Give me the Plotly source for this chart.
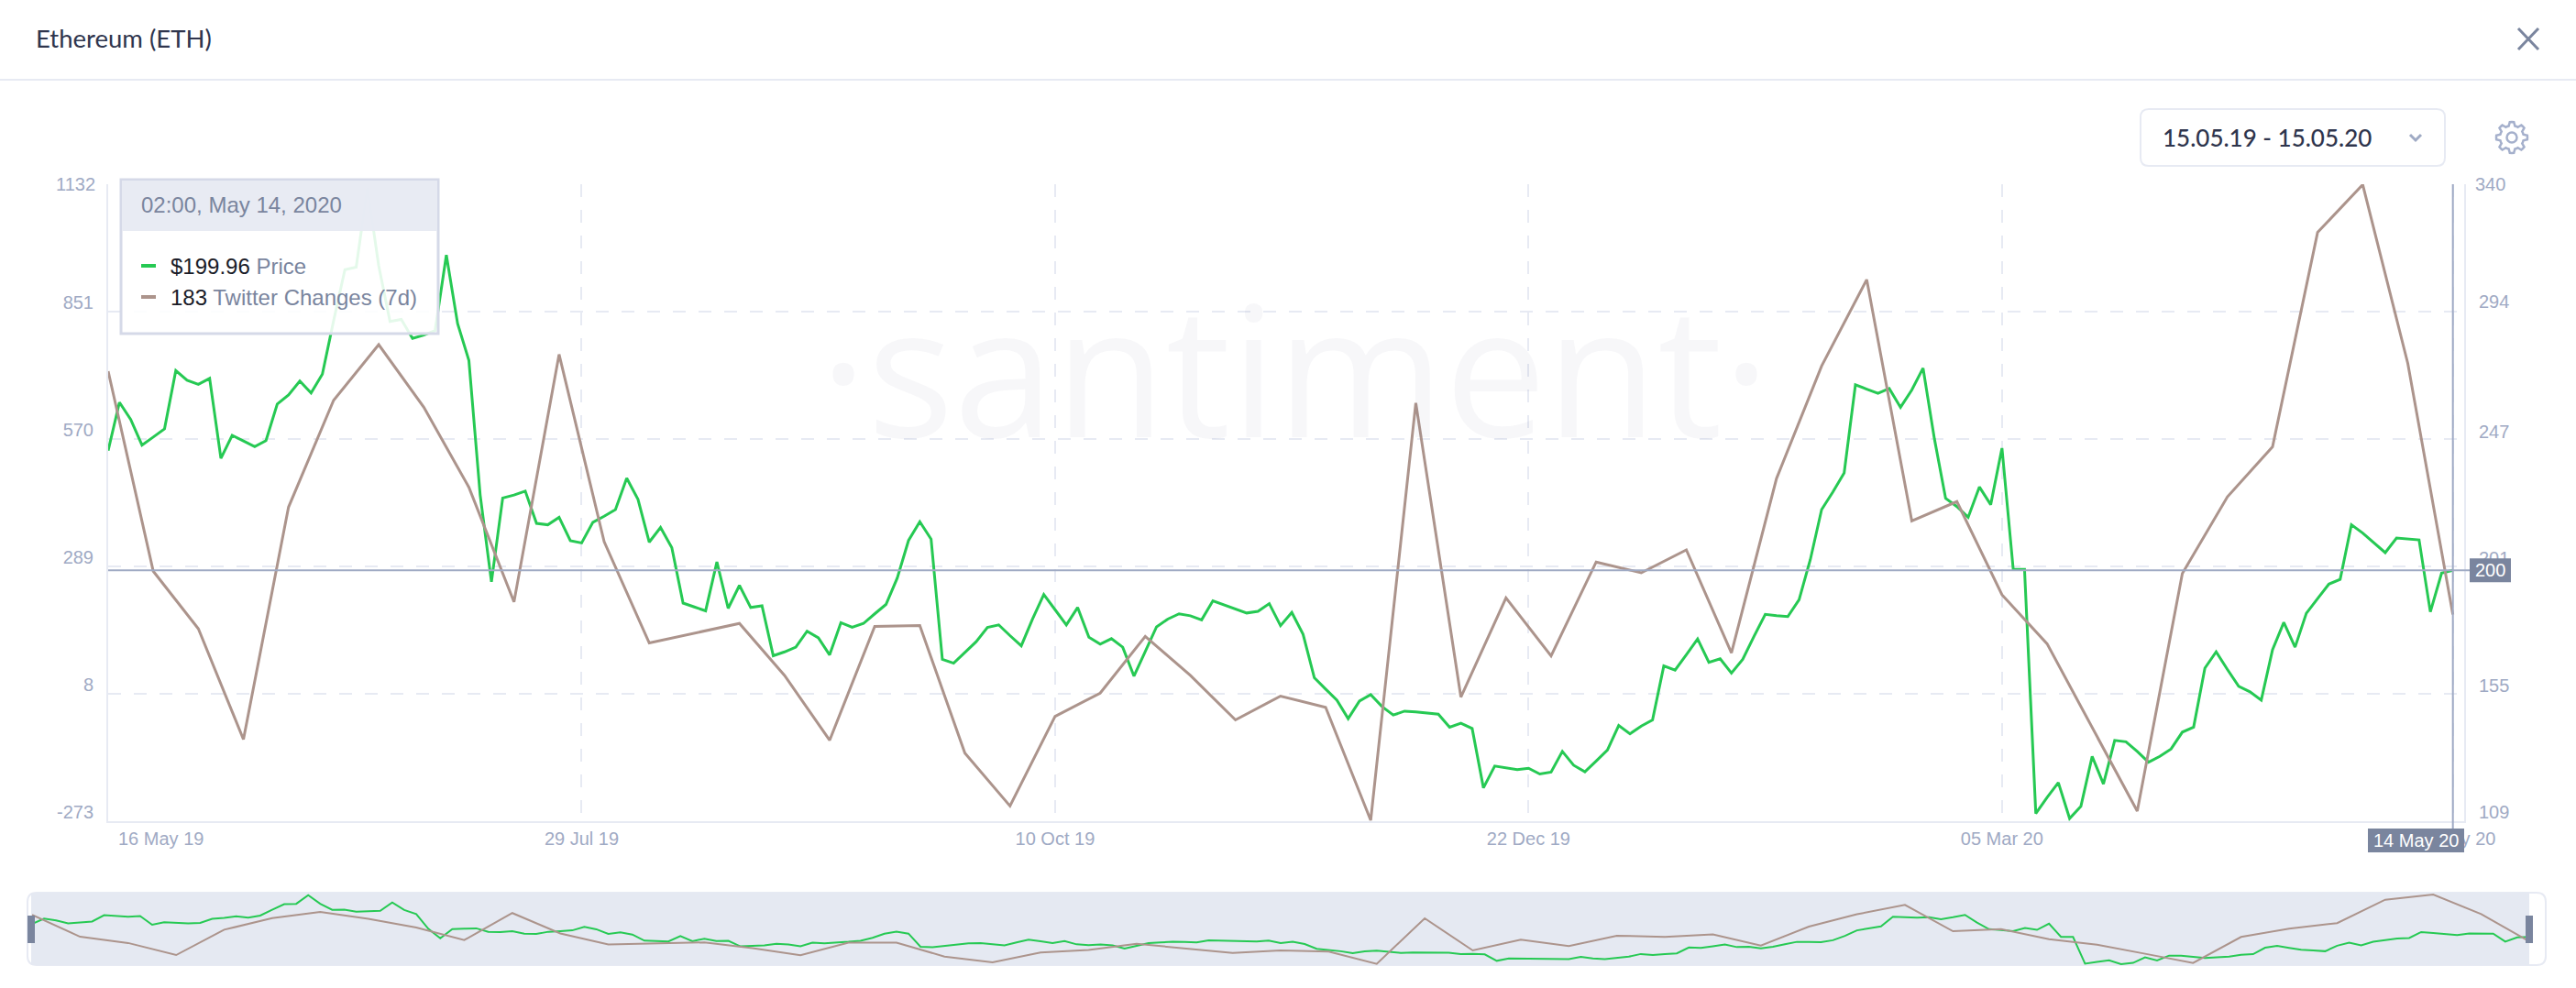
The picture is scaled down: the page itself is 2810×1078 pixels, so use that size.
import math
import pandas as pd
import plotly.graph_objects as go

W, H = 2810, 1078

price = [243.4,260.9,254.7,245.4,248.3,251.3,272.4,268.9,267.4,269.6,240.6,248.9,246.9,244.8,247,260.3,263.6,268.6,264.3,271.1,
290.5,309,309.9,338.7,310.4,290.2,291,284.1,285.3,286.9,314.3,289.4,276.1,227.3,195.8,226.2,227.3,228.7,217,216.5,
219.2,210.7,209.9,217.4,219.6,222,233.4,225.7,210.2,215.5,208.2,188.1,186.7,185.3,203,186.2,194.5,186.5,187.1,169,
170.4,172.1,177.9,175.5,169.3,181,179.3,180.7,184.2,187.6,197.2,210.8,217.6,211.3,167.7,166.3,170.2,174.1,179.3,180.2,
176.3,172.6,182.3,191.2,185.7,180.2,186.5,175.7,173.2,175.2,172.1,161.6,170.5,179.5,182.3,184.2,183.5,182,188.9,187.5,
185.9,184.5,185.1,187.9,179.9,184.7,176.8,161,156.9,152.9,146.2,152.6,154.9,150.6,147.5,148.9,148.6,148.3,147.8,143.1,
144.5,142.6,121.1,129,128.3,127.7,128.2,126.1,126.8,134.3,129.3,126.9,130.8,134.8,143.7,140.7,143.5,145.7,165.3,163.8,
169.4,175.1,166.6,167.9,162.7,167.7,176,184,183.5,183.2,189.3,203.9,222,228.4,235.3,267.3,265.7,264.2,265.9,259.1,
265.4,273.3,247.8,226.1,223.1,219.2,230.2,223.8,244.3,200.3,200.3,111.8,117.6,123,110,114.4,132.5,122.5,138.3,137.8,
134.3,130.4,132.5,135.2,141.3,143.1,164.5,170.4,164,157.9,155.9,152.9,171.2,181.1,172.1,184.4,189.7,195,196.7,216.5,
213.5,209.9,206.4,211.7,211.3,211,184.9,199,199.96]

twitter = [719.6,278.3,151.5,-92.5,419.8,655.5,778.2,640.1,463.5,210.7,756.6,343.6,120.2,141.4,163.3,48.6,-94.5,156.6,158.4,-123,
-239.4,-41.9,9.6,134.5,48.6,-49.6,3,-21.9,-271,649.6,0.9,219.4,91.7,298.7,274.8,325.4,98.4,482.9,730.9,921.6,
389.3,432,226.3,118.4,-65.8,-250.8,273.4,442.6,552.8,1025.9,1131,736.8,183]

left_ticks = [1132, 851, 570, 289, 8, -273]
right_ticks = [340, 294, 247, 201, 155, 109]
x_tick_index = [42, 84, 126, 168, 208]
x_tick_labels = ["29 Jul 19", "10 Oct 19", "22 Dec 19", "05 Mar 20", "14 May 20"]

START, END = "2019-05-16 02:00", "2020-05-14 02:00"
price_dates = pd.date_range(START, END, periods=len(price))
twitter_dates = pd.date_range(START, END, periods=len(twitter))
x_ticks = [price_dates[i] for i in x_tick_index]
x_max = pd.Timestamp(END) + pd.Timedelta(hours=42)

GREEN, BROWN = "#26C953", "#AC948C"
TICK = "#9faac4"; GRID = "#e7eaf3"; SLATE = "#7a859e"; DARK = "#2f354d"
SANS = "Liberation Sans"

def px(x): return x / W
def py(y): return 1 - y / H

fig = go.Figure()
fig.add_trace(go.Scatter(x=price_dates, y=price, name="Price", mode="lines",
                         line=dict(color=GREEN, width=3), xaxis="x", yaxis="y"))
fig.add_trace(go.Scatter(x=twitter_dates, y=twitter, name="Twitter Changes (7d)", mode="lines",
                         line=dict(color=BROWN, width=3), xaxis="x", yaxis="y2"))
fig.add_trace(go.Scatter(x=price_dates, y=price, mode="lines", name="Price",
                         line=dict(color=GREEN, width=2), xaxis="x2", yaxis="y3"))
fig.add_trace(go.Scatter(x=twitter_dates, y=twitter, mode="lines", name="Twitter Changes (7d)",
                         line=dict(color=BROWN, width=2), xaxis="x2", yaxis="y4"))

shapes = []
anns = []

def rrect(x0, y0, x1, y1, r):
    X = px; Y = py
    return (f"M {X(x0+r)} {Y(y0)} L {X(x1-r)} {Y(y0)} Q {X(x1)} {Y(y0)} {X(x1)} {Y(y0+r)} "
            f"L {X(x1)} {Y(y1-r)} Q {X(x1)} {Y(y1)} {X(x1-r)} {Y(y1)} L {X(x0+r)} {Y(y1)} "
            f"Q {X(x0)} {Y(y1)} {X(x0)} {Y(y1-r)} L {X(x0)} {Y(y0+r)} Q {X(x0)} {Y(y0)} {X(x0+r)} {Y(y0)} Z")

def rect(x0, y0, x1, y1, fill, line=None, lw=0, layer="above"):
    shapes.append(dict(type="rect", xref="paper", yref="paper", x0=px(x0), x1=px(x1), y0=py(y0), y1=py(y1),
                       fillcolor=fill, line=dict(color=line or "rgba(0,0,0,0)", width=lw), layer=layer))

def seg(x0, y0, x1, y1, color, lw, layer="above"):
    shapes.append(dict(type="line", xref="paper", yref="paper", x0=px(x0), x1=px(x1), y0=py(y0), y1=py(y1),
                       line=dict(color=color, width=lw), layer=layer))

def text(x, y, s, size, color, anchor="left", font=SANS, weight=None):
    f = dict(family=font, size=size, color=color)
    if weight: f["weight"] = weight
    anns.append(dict(xref="paper", yref="paper", x=px(x - 2 if anchor == "left" else x), y=py(y), text=s, showarrow=False,
                     xanchor=anchor, yanchor="middle", font=f))

# header
seg(0, 87, W, 87, GRID, 2)
text(39, 41, "Ethereum (ETH)", 27.5, DARK, font="Lato")
seg(2747, 31, 2769, 54, SLATE, 3)
seg(2769, 31, 2747, 54, SLATE, 3)

# date selector
shapes.append(dict(type="path", xref="paper", yref="paper", path=rrect(2335, 119, 2667, 181, 9),
                   line=dict(color=GRID, width=2), fillcolor="white"))
text(2359, 150, "15.05.19 - 15.05.20", 26, DARK, font="Lato", weight=500)
shapes.append(dict(type="path", xref="paper", yref="paper",
                   path=f"M {px(2629)} {py(147)} L {px(2635)} {py(153)} L {px(2641)} {py(147)}",
                   line=dict(color=TICK, width=3)))

# gear
gx, gy = 2740, 150
pts = []
for k in range(48):
    a = 2 * math.pi * k / 48
    phase = (k % 6)
    r = 17 if phase in (0, 1, 5) else 13
    pts.append((gx + r * math.cos(a), gy + r * math.sin(a)))
gear = "M " + " L ".join(f"{px(p[0])} {py(p[1])}" for p in pts) + " Z"
shapes.append(dict(type="path", xref="paper", yref="paper", path=gear, line=dict(color="#a5b0cc", width=2.5)))
shapes.append(dict(type="circle", xref="paper", yref="paper", x0=px(gx-5.5), x1=px(gx+5.5), y0=py(gy+5.5), y1=py(gy-5.5),
                   line=dict(color="#a5b0cc", width=2.5)))

# watermark
anns.append(dict(xref="paper", yref="paper", x=px(1412), y=py(400), text="·santiment·", showarrow=False,
                 xanchor="center", yanchor="middle",
                 font=dict(family="Open Sans", size=198, color="rgba(47,53,100,0.04)", weight=400)))

# first x label + top labels
text(129, 915, "16 May 19", 20, TICK)
text(106, 201, "1132", 20, TICK, anchor="right")
text(2700, 201, "340", 20, TICK)

# minimap
shapes.append(dict(type="path", xref="paper", yref="paper", path=rrect(30, 974, 2777, 1053, 10),
                   line=dict(color=GRID, width=2), fillcolor="white", layer="below"))
rect(34, 974, 2759, 1053, "#e5e9f2", layer="below")
rect(30, 999, 38, 1029, SLATE)
rect(2755, 999, 2763, 1029, SLATE)

# cursor
shapes.append(dict(type="line", xref="paper", yref="y", x0=px(118), x1=px(2694), y0=price[-1], y1=price[-1],
                   line=dict(color=TICK, width=2)))
shapes.append(dict(type="line", xref="x", yref="paper", x0=price_dates[-1], x1=price_dates[-1], y0=py(201), y1=py(904),
                   line=dict(color=TICK, width=2)))
shapes.append(dict(type="rect", xref="paper", yref="y", ysizemode="pixel", yanchor=price[-1], y0=-13, y1=13,
                   x0=px(2694), x1=px(2739), fillcolor=SLATE, line=dict(width=0)))
anns.append(dict(xref="paper", yref="y", x=px(2716.5), y=price[-1], text="200", showarrow=False,
                 xanchor="center", yanchor="middle", font=dict(family=SANS, size=20, color="white")))
rect(2583, 904, 2688, 930, SLATE)
text(2635.5, 917, "14 May 20", 20, "white", anchor="center")

# tooltip
rect(132, 196, 478, 364, "rgba(255,255,255,0.88)", "#d5d9e8", 3)
rect(133, 197, 477, 252, "rgba(231,234,243,0.96)")
text(154, 223, "02:00, May 14, 2020", 24, SLATE)
seg(154, 290, 170, 290, GREEN, 4)
seg(154, 324, 170, 324, BROWN, 4)
text(186, 290, f'<span style="color:#1a1c28">$199.96</span> Price', 24, SLATE)
text(186, 324, '<span style="color:#1a1c28">183</span> Twitter Changes (7d)', 24, SLATE)

dom_x = [px(118), px(2688)]
dom_y = [py(896), py(201)]
tickfont = dict(family=SANS, size=20, color=TICK)

fig.update_layout(
    width=W, height=H, margin=dict(l=0, r=0, t=0, b=0, pad=0), autosize=False,
    paper_bgcolor="white", plot_bgcolor="rgba(0,0,0,0)", showlegend=False,
    shapes=shapes, annotations=anns,
    xaxis=dict(domain=dom_x, type="date", range=[price_dates[0], x_max], tickmode="array", automargin=False,
               tickvals=x_ticks, ticktext=x_tick_labels, tickfont=tickfont, ticks="",
               showgrid=True, gridcolor=GRID, gridwidth=2, griddash="14px,14px",
               showline=True, linecolor=GRID, linewidth=2, anchor="y", zeroline=False),
    yaxis=dict(domain=dom_y, side="right", range=[109, 340], tickmode="array", tickvals=right_ticks, automargin=False,
               ticktext=[""] + [str(v) for v in right_ticks[1:]], tickfont=tickfont, ticks="",
               ticklabelshift=-10, ticklabelstandoff=10, showgrid=False, zeroline=False, anchor="x",
               showline=True, linecolor=GRID, linewidth=2),
    yaxis2=dict(domain=dom_y, side="left", overlaying="y", range=[-273, 1132], tickmode="array", automargin=False,
                tickvals=left_ticks, ticktext=[""] + [str(v) for v in left_ticks[1:]], tickfont=tickfont, ticks="",
                ticklabelshift=-10, ticklabelstandoff=10, showgrid=True, gridcolor=GRID, gridwidth=2,
                griddash="14px,14px", zeroline=False, anchor="x",
                showline=True, linecolor=GRID, linewidth=2),
    xaxis2=dict(domain=[px(35), px(2759)], type="date", range=[price_dates[0], price_dates[-1]],
                visible=False, anchor="y3", automargin=False),
    yaxis3=dict(domain=[py(1053.7), py(974)], range=[104.8, 346.9], visible=False, anchor="x2", automargin=False),
    yaxis4=dict(domain=[py(1053.7), py(974)], range=[-308, 1168], visible=False, anchor="x2", overlaying="y3", automargin=False),
)

fig.write_html("out.html", config={"displayModeBar": False},
               post_script="document.body.style.margin='0';document.body.style.overflow='hidden';")
